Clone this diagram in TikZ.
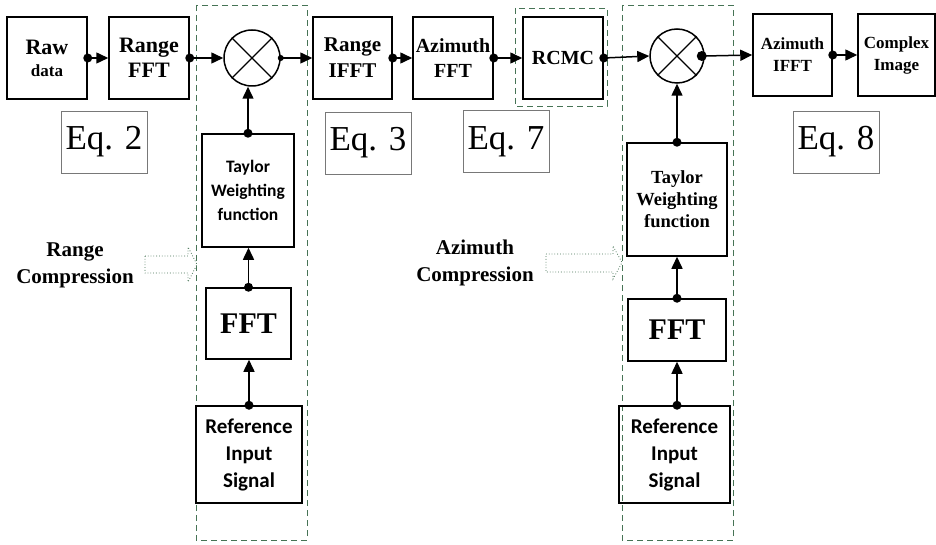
\documentclass[tikz,border=0pt]{standalone}
\usepackage{fontspec}
\setmainfont{Liberation Serif}
\newfontfamily\calfont{Carlito}
\usetikzlibrary{arrows.meta}
\definecolor{dgreen}{RGB}{70,115,85}
\definecolor{eqgray}{RGB}{120,120,120}
\tikzset{
  blk/.style={draw, line width=1.5pt, inner sep=0pt, align=center},
  eqbox/.style={draw=eqgray, line width=0.9pt, inner sep=0pt, minimum width=86pt, minimum height=62pt, font=\fontsize{35}{40}\selectfont},
  conn/.style={line width=1.5pt, -{Triangle[length=12pt,width=11pt]}},
  dotc/.style={fill=black},
  grpbox/.style={draw=dgreen, line width=0.9pt, dash pattern=on 6pt off 4pt},
  hollow/.style={draw=dgreen, line width=0.8pt, dotted, fill=white},
  mult/.style={draw, circle, line width=1.5pt, minimum size=56pt, inner sep=0pt},
  lbl/.style={align=center, font=\bfseries\fontsize{21}{27}\selectfont}
}
\begin{document}
\begin{tikzpicture}[x=1pt,y=-1pt]
\useasboundingbox (0,0) rectangle (936,545);
% group boxes
\draw[grpbox] (196,5) rectangle (307,540);
\draw[grpbox] (622,5) rectangle (733,540);
\draw[grpbox] (515,8) rectangle (607,106);
% top row
\node[blk, minimum width=80pt, minimum height=82pt, font=\bfseries\fontsize{22}{22}\selectfont] (raw) at (47,58)
  {Raw\\\fontsize{17}{22}\selectfont data};
\node[blk, minimum width=80pt, minimum height=82pt, font=\bfseries\fontsize{22}{25}\selectfont] (rfft) at (149,58)
  {Range\\FFT};
\node[mult] (m1) at (252,58) {};
\node[blk, minimum width=79pt, minimum height=82pt, font=\bfseries\fontsize{21}{26}\selectfont] (rifft) at (352.5,58)
  {Range\\IFFT};
\node[blk, minimum width=80pt, minimum height=82pt, font=\bfseries\fontsize{20}{25}\selectfont] (azfft) at (453,58)
  {Azimuth\\FFT};
\node[blk, minimum width=80pt, minimum height=82pt, font=\bfseries\fontsize{20}{25}\selectfont] (rcmc) at (563,58)
  {RCMC};
\node[mult, minimum size=54pt] (m2) at (677,56) {};
\node[blk, minimum width=79pt, minimum height=82pt, font=\bfseries\fontsize{17}{22}\selectfont] (azifft) at (792.5,55)
  {Azimuth\\IFFT};
\node[blk, minimum width=77pt, minimum height=82pt, font=\bfseries\fontsize{17}{22}\selectfont] (cimg) at (896.5,55)
  {Complex\\Image};
% multiplier crosses
\foreach \m in {m1,m2}{
  \draw[line width=1.3pt] (\m.45) -- (\m.225);
  \draw[line width=1.3pt] (\m.135) -- (\m.315);
}
% column 1
\node[blk, minimum width=92pt, minimum height=113pt, font=\calfont\bfseries\fontsize{17.5}{24}\selectfont] (tay1) at (248,190.5)
  {Taylor\\Weighting\\function};
\node[blk, minimum width=85pt, minimum height=71pt, font=\bfseries\fontsize{30}{34}\selectfont] (fft1) at (248.5,323.5)
  {FFT};
\node[blk, minimum width=106pt, minimum height=97pt, font=\calfont\bfseries\fontsize{21}{27}\selectfont] (ref1) at (249,454.5)
  {Reference\\Input\\Signal};
% column 2
\node[blk, minimum width=100pt, minimum height=113pt, font=\bfseries\fontsize{18.5}{22}\selectfont] (tay2) at (677,199.5)
  {Taylor\\Weighting\\function};
\node[blk, minimum width=98pt, minimum height=62pt, font=\bfseries\fontsize{30}{34}\selectfont] (fft2) at (677,330)
  {FFT};
\node[blk, minimum width=111pt, minimum height=97pt, font=\calfont\bfseries\fontsize{21}{27}\selectfont] (ref2) at (674.5,454.5)
  {Reference\\Input\\Signal};
% equation boxes
\node[eqbox] (eq2) at (104,142) {Eq. 2};
\node[eqbox] (eq3) at (368,143) {Eq. 3};
\node[eqbox] (eq7) at (506,141.5) {Eq. 7};
\node[eqbox] (eq8) at (836,142) {Eq. 8};
% compression labels
\node[lbl] (rclbl) at (75,265) {Range\\Compression};
\node[lbl] (aclbl) at (475,263) {Azimuth\\Compression};
% hollow arrows
\draw[hollow] (145,256) -- (188,256) -- (188,247) -- (197,264.5) -- (188,282) -- (188,273) -- (145,273) -- cycle;
\draw[hollow] (546,254) -- (613,254) -- (613,246) -- (622,262.5) -- (613,279) -- (613,272) -- (546,272) -- cycle;
% horizontal connectors
\draw[conn] (raw.east) -- (rfft.west);
\draw[conn] (rfft.east) -- (m1.west);
\draw[conn] (m1.east) -- (rifft.west);
\draw[conn] (rifft.east) -- (azfft.west);
\draw[conn] (azfft.east) -- (rcmc.west);
\draw[conn] (rcmc.east) -- (m2.west);
\draw[conn] (m2.east) -- (azifft.west);
\draw[conn] (azifft.east) -- (cimg.west);
% vertical connectors
\draw[conn] (tay1.north) -- (tay1.north |- m1.south);
\draw[conn] (fft1.north) -- (fft1.north |- tay1.south);
\draw[conn] (ref1.north) -- (ref1.north |- fft1.south);
\draw[conn] (tay2.north) -- (m2.south);
\draw[conn] (fft2.north) -- (tay2.south);
\draw[conn] (ref2.north -| fft2.south) -- (fft2.south);
% dots
\foreach \p in {raw.east, rfft.east, rifft.east, azfft.east, rcmc.east, azifft.east,
                tay1.north, fft1.north, ref1.north, tay2.north, fft2.north}{
  \fill[dotc] (\p) circle (4.5pt);
}
\fill[dotc] (ref2.north -| fft2.south) circle (4.5pt);
\fill[dotc] (m1.east) circle (3pt);
\fill[dotc] (m2.east) ++(-3,0) circle (5pt);
\end{tikzpicture}
\end{document}
